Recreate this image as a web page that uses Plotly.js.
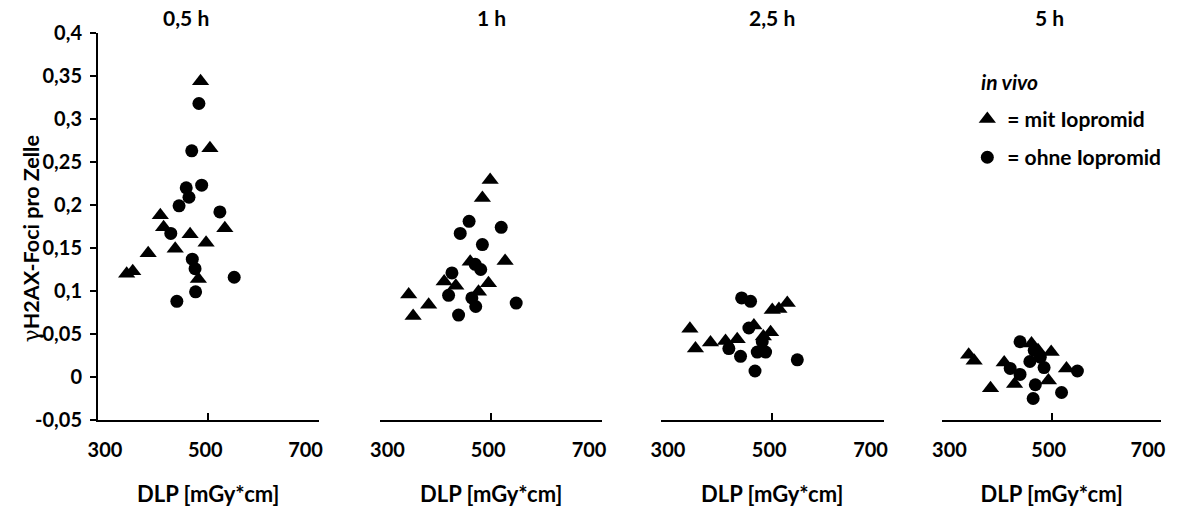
<!DOCTYPE html>
<html><head><meta charset="utf-8">
<script src="https://cdn.plot.ly/plotly-3.0.1.min.js"></script>
<style>html,body{margin:0;padding:0;background:#fff}#chart{width:1178px;height:509px}</style>
</head><body><div id="chart"></div>
<script>
// ---- data ----
const panelTitles = ['0,5 h', '1 h', '2,5 h', '5 h'];
const xTickVals = [300, 500, 700];
const xTickText = ['300', '500', '700'];
const yTickVals = [-0.05, 0, 0.05, 0.1, 0.15, 0.2, 0.25, 0.3, 0.35, 0.4];
const yTickText = ['-0,05', '0', '0,05', '0,1', '0,15', '0,2', '0,25', '0,3', '0,35', '0,4'];
const seriesNames = ['= mit Iopromid', '= ohne Iopromid'];
const legendTitle = 'in vivo';
const xTitle = 'DLP [mGy*cm]';
const yTitle = 'H2AX-Foci pro Zelle';

// 0,5 h
const mitX_05 = [486, 503, 413, 419, 467, 530, 496, 440, 391, 363, 352, 482];
const mitY_05 = [0.344, 0.266, 0.188, 0.174, 0.166, 0.173, 0.156, 0.149, 0.144, 0.123, 0.120, 0.114];
const ohneX_05 = [483, 470, 460, 488, 465, 447, 521, 432, 471, 476, 547, 477, 443];
const ohneY_05 = [0.318, 0.263, 0.220, 0.223, 0.209, 0.199, 0.192, 0.167, 0.137, 0.126, 0.116, 0.099, 0.088];
// 1 h
const mitX_1 = [498, 484, 462, 525, 415, 436, 495, 477, 351, 387, 359];
const mitY_1 = [0.229, 0.208, 0.134, 0.135, 0.111, 0.106, 0.109, 0.099, 0.096, 0.084, 0.071];
const ohneX_1 = [460, 444, 518, 484, 471, 481, 429, 423, 465, 472, 545, 441];
const ohneY_1 = [0.181, 0.167, 0.174, 0.154, 0.131, 0.125, 0.121, 0.095, 0.092, 0.082, 0.086, 0.072];
// 2,5 h
const mitX_25 = [352, 362, 389, 416, 437, 467, 497, 500, 512, 527, 484];
const mitY_25 = [0.056, 0.033, 0.040, 0.042, 0.044, 0.060, 0.052, 0.078, 0.079, 0.086, 0.047];
const ohneX_25 = [445, 461, 458, 482, 473, 488, 422, 443, 469, 545];
const ohneY_25 = [0.092, 0.088, 0.057, 0.041, 0.029, 0.029, 0.033, 0.024, 0.007, 0.020];
// 5 h
const mitX_5 = [348, 358, 388, 413, 463, 499, 432, 494, 527, 475];
const mitY_5 = [0.026, 0.019, -0.013, 0.017, 0.039, 0.029, -0.008, -0.004, 0.010, 0.031];
const ohneX_5 = [442, 460, 424, 442, 486, 470, 518, 466, 547, 468, 479];
const ohneY_5 = [0.041, 0.018, 0.010, 0.003, 0.011, -0.009, -0.018, -0.025, 0.007, 0.031, 0.023];

const panels = [
  {mx: mitX_05, my: mitY_05, ox: ohneX_05, oy: ohneY_05},
  {mx: mitX_1, my: mitY_1, ox: ohneX_1, oy: ohneY_1},
  {mx: mitX_25, my: mitY_25, ox: ohneX_25, oy: ohneY_25},
  {mx: mitX_5, my: mitY_5, ox: ohneX_5, oy: ohneY_5}
];

// ---- style ----
const FONT = 'Lato, "Open Sans", sans-serif';
const domains = [[0, 0.2075], [0.2657, 0.4742], [0.5296, 0.7390], [0.7944, 1]];
const titlePos = [0.40, 0.5, 0.5, 0.49];
const boldFont = (s) => ({family: FONT, size: s, color: '#000', weight: 700});
// In the original the end labels sit inside the axis ends. All labels are shifted
// left by LABEL_SHIFT px, and leading wide spaces move the first two back to the right.
const LABEL_SHIFT = 13;
const PAD = '\u2003\u2005';
const xTickTextPadded = [PAD + PAD + xTickText[0], PAD + xTickText[1], xTickText[2]];

const traces = [];
const layout = {
  width: 1178, height: 509,
  margin: {l: 98, r: 15, t: 33, b: 89},
  paper_bgcolor: '#fff', plot_bgcolor: 'rgba(0,0,0,0)',
  font: boldFont(20),
  showlegend: true,
  legend: {
    x: 0.8178, xanchor: 'left', y: 0.83, yanchor: 'top',
    bgcolor: 'rgba(0,0,0,0)', tracegroupgap: 8,
    font: boldFont(21)
  },
  yaxis: {
    domain: [0, 1], range: [-0.05, 0.4], anchor: 'x',
    showline: true, linecolor: '#000', linewidth: 2,
    ticks: 'outside', ticklen: 6, tickwidth: 2, tickcolor: '#000',
    tickvals: yTickVals, ticktext: yTickText, ticklabelstandoff: 4,
    tickfont: boldFont(20),
    showgrid: false, zeroline: false, fixedrange: true
  },
  annotations: []
};

panels.forEach((p, i) => {
  const n = i + 1;
  const xa = n === 1 ? 'x' : 'x' + n;
  const xaKey = n === 1 ? 'xaxis' : 'xaxis' + n;
  layout[xaKey] = {
    domain: domains[i], range: [300, 700], anchor: 'y',
    showline: true, linecolor: '#000', linewidth: 2,
    ticks: 'inside', ticklen: 7, tickwidth: 2, tickcolor: '#000',
    tickvals: xTickVals, ticktext: xTickTextPadded, ticklabelstandoff: 11,
    ticklabelshift: -LABEL_SHIFT, ticklabeloverflow: 'allow',
    tickfont: boldFont(20),
    title: {text: xTitle, standoff: 27, font: boldFont(22)},
    automargin: false,
    showgrid: false, zeroline: false, fixedrange: true
  };
  traces.push({
    type: 'scatter', mode: 'markers', x: p.mx, y: p.my, xaxis: xa, yaxis: 'y',
    name: seriesNames[0], legendgroup: 'mit', showlegend: i === 0, cliponaxis: false,
    marker: {symbol: 'triangle-up', size: 15, color: '#000', line: {width: 0}}
  });
  traces.push({
    type: 'scatter', mode: 'markers', x: p.ox, y: p.oy, xaxis: xa, yaxis: 'y',
    name: seriesNames[1], legendgroup: 'ohne', showlegend: i === 0, cliponaxis: false,
    marker: {symbol: 'circle', size: 13, color: '#000', line: {width: 0}}
  });
  layout.annotations.push({
    text: panelTitles[i], xref: xa + ' domain', x: titlePos[i], yref: 'paper', y: 1.0388,
    xanchor: 'center', yanchor: 'middle', showarrow: false,
    font: boldFont(21)
  });
});

// legend heading
layout.annotations.push({
  text: '<i>' + legendTitle + '</i>', xref: 'paper', x: (981 - 98) / 1065, yref: 'paper', y: (420 - 81) / 387,
  xanchor: 'left', yanchor: 'middle', showarrow: false, font: boldFont(21)
});

// y-axis title
layout.annotations.push({
  text: '<span style="font-family:\'DejaVu Serif\';font-weight:normal">γ</span>' + yTitle,
  xref: 'paper', x: (31 - 98) / 1065, yref: 'paper', y: (420 - 239) / 387, textangle: -90,
  xanchor: 'center', yanchor: 'middle', showarrow: false,
  font: boldFont(21.5)
});

Plotly.newPlot('chart', traces, layout, {displayModeBar: false, staticPlot: true});
</script>
</body></html>
